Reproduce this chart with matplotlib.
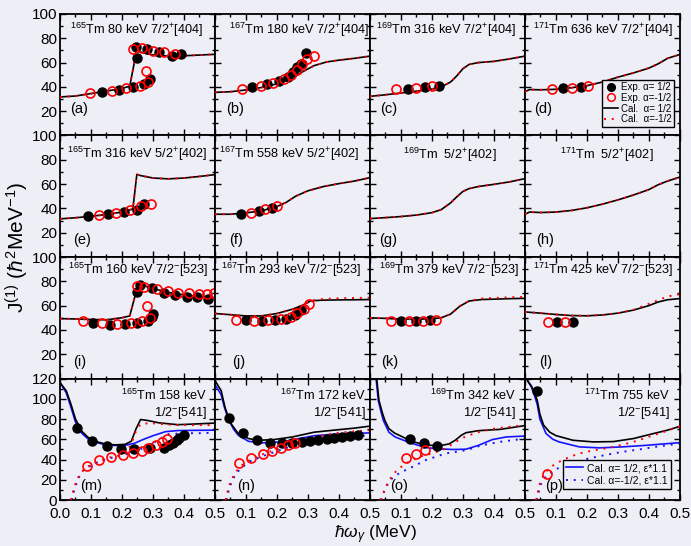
import matplotlib
matplotlib.use('Agg')
import matplotlib.pyplot as plt
from matplotlib.ticker import MultipleLocator
from matplotlib.lines import Line2D

plt.rcParams['font.family'] = ['Liberation Sans', 'DejaVu Sans']
plt.rcParams['mathtext.fontset'] = 'custom'
plt.rcParams['mathtext.rm'] = 'Liberation Sans'
plt.rcParams['mathtext.it'] = 'Liberation Sans:italic'
plt.rcParams['mathtext.bf'] = 'Liberation Sans:bold'

BG = '#eeeef6'

# ---- row 1 : 7/2+[404] ----
a_bx = [0.137, 0.191, 0.234, 0.272, 0.290, 0.248, 0.245, 0.280, 0.318, 0.361, 0.390]
a_by = [35.5, 37.7, 39.9, 42.7, 46.8, 63.4, 73.0, 70.8, 68.9, 65.8, 66.7]
a_rx = [0.098, 0.167, 0.213, 0.258, 0.283, 0.276, 0.237, 0.263, 0.301, 0.335, 0.371]
a_ry = [35.0, 36.9, 39.1, 40.7, 44.1, 53.2, 71.1, 71.6, 69.7, 68.3, 67.2]
a_cx = [0, 0.05, 0.1, 0.15, 0.2, 0.225, 0.247, 0.27, 0.3, 0.35, 0.4, 0.45, 0.5]
a_cy = [31.7, 32.5, 34.5, 36.5, 38.8, 40.5, 69.5, 68.0, 66.3, 65.3, 65.6, 66.2, 66.8]

b_bx = [0.118, 0.169, 0.206, 0.236, 0.253, 0.266, 0.276, 0.293]
b_by = [39.9, 42.2, 44.9, 48.2, 52.3, 56.4, 59.2, 67.5]
b_rx = [0.086, 0.147, 0.188, 0.222, 0.244, 0.266, 0.280, 0.298, 0.319]
b_ry = [38.6, 40.8, 43.5, 46.3, 50.1, 54.3, 58.7, 62.8, 65.3]
b_cx = [0, 0.05, 0.1, 0.15, 0.2, 0.23, 0.26, 0.29, 0.32, 0.36, 0.4, 0.45, 0.5]
b_cy = [35.5, 36.0, 37.5, 39.5, 42.5, 45.5, 49.0, 53.5, 57.5, 60.5, 62.0, 63.5, 65.3]

c_bx = [0.123, 0.177, 0.223]
c_by = [38.6, 40.0, 41.1]
c_rx = [0.085, 0.147, 0.201]
c_ry = [38.6, 39.4, 40.5]
c_cx = [0, 0.05, 0.1, 0.15, 0.2, 0.23, 0.26, 0.28, 0.3, 0.32, 0.35, 0.4, 0.45, 0.5]
c_cy = [32.2, 33.5, 35.0, 36.5, 38.2, 40.0, 44.0, 49.0, 55.0, 58.5, 60.0, 61.0, 63.0, 65.3]

d_bx = [0.124, 0.180]
d_by = [38.8, 40.0]
d_rx = [0.088, 0.153, 0.203]
d_ry = [38.6, 39.4, 40.8]
d_cx = [0, 0.015, 0.05, 0.1, 0.15, 0.2, 0.25, 0.3, 0.35, 0.4, 0.43, 0.46, 0.5]
d_cy = [36.0, 37.8, 37.6, 38.0, 39.3, 41.0, 44.0, 48.0, 51.5, 55.5, 59.0, 63.5, 66.7]

# ---- row 2 : 5/2+[402] ----
e_bx = [0.091, 0.156, 0.207, 0.247, 0.271]
e_by = [33.6, 35.2, 37.2, 38.5, 44.0]
e_rx = [0.126, 0.181, 0.226, 0.260, 0.293]
e_ry = [34.4, 36.3, 38.5, 41.8, 44.0]
e_cx = [0, 0.05, 0.1, 0.15, 0.2, 0.235, 0.248, 0.26, 0.3, 0.35, 0.4, 0.45, 0.5]
e_cy = [31.4, 32.3, 33.5, 35.0, 37.0, 39.5, 68.0, 67.0, 65.0, 64.3, 65.0, 66.3, 67.8]

f_bx = [0.083, 0.142, 0.185]
f_by = [35.8, 37.7, 40.4]
f_rx = [0.115, 0.163, 0.200]
f_ry = [36.6, 39.3, 42.3]
f_cx = [0, 0.05, 0.1, 0.15, 0.2, 0.23, 0.26, 0.3, 0.35, 0.4, 0.45, 0.5]
f_cy = [35.2, 35.2, 36.3, 38.0, 41.5, 45.0, 50.0, 54.5, 58.0, 60.4, 62.5, 65.3]

g_cx = [0, 0.05, 0.1, 0.15, 0.2, 0.23, 0.26, 0.28, 0.3, 0.32, 0.35, 0.4, 0.45, 0.5]
g_cy = [31.6, 32.4, 33.3, 34.5, 36.5, 39.0, 44.5, 49.5, 54.0, 56.3, 58.0, 59.8, 61.8, 64.5]

h_cx = [0, 0.015, 0.05, 0.1, 0.15, 0.2, 0.25, 0.3, 0.35, 0.4, 0.43, 0.46, 0.5]
h_cy = [35.2, 37.0, 36.6, 37.0, 38.3, 40.5, 43.5, 47.0, 51.0, 55.5, 59.5, 62.5, 65.8]

# ---- row 3 : 7/2-[523] ----
i_bx = [0.108, 0.161, 0.210, 0.250, 0.285, 0.296, 0.300,
        0.247, 0.258, 0.296, 0.334, 0.372, 0.409, 0.443, 0.479]
i_by = [45.7, 44.4, 44.6, 45.7, 47.1, 50.7, 52.9,
        71.3, 76.9, 74.1, 70.5, 68.6, 67.2, 66.7, 65.8]
i_rx = [0.073, 0.135, 0.183, 0.228, 0.264, 0.290, 0.280,
        0.247, 0.272, 0.312, 0.348, 0.381, 0.415, 0.447, 0.473, 0.498]
i_ry = [47.4, 45.3, 44.6, 45.7, 47.4, 49.9, 59.5,
        76.0, 75.5, 73.3, 71.9, 70.5, 70.0, 69.4, 69.4, 70.0]
i_cx = [0, 0.05, 0.1, 0.15, 0.2, 0.225, 0.25, 0.258, 0.3, 0.35, 0.4, 0.45, 0.5]
i_cy = [49.3, 49.0, 48.6, 48.3, 50.0, 51.5, 75.5, 77.5, 74.0, 70.8, 68.8, 67.5, 66.5]

j_bx = [0.099, 0.151, 0.193, 0.228, 0.258, 0.276]
j_by = [47.9, 47.4, 47.9, 49.3, 52.0, 56.2]
j_rx = [0.069, 0.126, 0.172, 0.212, 0.244, 0.265, 0.287, 0.303]
j_ry = [48.5, 47.4, 47.9, 48.7, 50.7, 54.0, 57.6, 61.0]
j_cx = [0, 0.05, 0.1, 0.15, 0.2, 0.25, 0.28, 0.31, 0.35, 0.4, 0.45, 0.5]
j_cy = [53.5, 52.5, 51.5, 51.5, 53.5, 57.0, 60.0, 64.0, 64.5, 64.7, 64.8, 65.0]
j_dy = [53.5, 52.5, 51.5, 51.5, 53.5, 57.0, 60.0, 64.0, 65.5, 66.0, 66.3, 66.5]

k_bx = [0.099, 0.149, 0.194]
k_by = [47.1, 47.1, 48.0]
k_rx = [0.069, 0.125, 0.172, 0.214]
k_ry = [47.4, 47.1, 47.4, 48.0]
k_cx = [0, 0.05, 0.1, 0.15, 0.2, 0.23, 0.26, 0.29, 0.32, 0.36, 0.4, 0.45, 0.5]
k_cy = [49.9, 49.5, 48.9, 48.8, 49.2, 50.0, 53.0, 59.5, 63.8, 65.0, 65.3, 65.7, 66.0]
k_dy = [49.9, 49.5, 48.9, 48.8, 49.2, 50.0, 53.0, 59.5, 64.0, 65.8, 66.3, 66.8, 67.2]

l_bx = [0.102, 0.154]
l_by = [46.6, 46.6]
l_rx = [0.073, 0.129]
l_ry = [46.6, 46.6]
l_cx = [0, 0.05, 0.1, 0.15, 0.2, 0.25, 0.3, 0.35, 0.4, 0.43, 0.46, 0.5]
l_cy = [54.8, 53.8, 52.7, 51.8, 51.6, 52.3, 53.8, 56.3, 60.0, 63.0, 64.8, 65.8]
l_dy = [54.8, 53.8, 52.7, 51.8, 51.6, 52.3, 53.8, 56.5, 61.5, 64.5, 67.5, 69.4]

# ---- row 4 : 1/2-[541] ----
m_bx = [0.056, 0.104, 0.151, 0.197, 0.239, 0.290, 0.335, 0.353, 0.366, 0.376, 0.385, 0.401]
m_by = [71.5, 58.1, 53.4, 50.2, 50.2, 51.6, 51.6, 54.0, 56.6, 59.0, 61.0, 64.3]
m_rx = [0.088, 0.127, 0.165, 0.202, 0.237, 0.263, 0.285, 0.310, 0.328, 0.344]
m_ry = [33.8, 39.4, 42.3, 44.3, 46.9, 48.9, 51.2, 54.1, 57.1, 60.7]
m_kx = [0, 0.02, 0.035, 0.05, 0.07, 0.09, 0.12, 0.15, 0.18, 0.21, 0.23, 0.245, 0.26,
        0.28, 0.32, 0.38, 0.43, 0.5]
m_ky = [116, 108, 95, 80, 68, 62, 57.5, 55, 54.5, 55, 58, 70, 79.5, 78.7, 76.2, 74.4, 75, 76]
m_ux = [0, 0.02, 0.035, 0.05, 0.07, 0.09, 0.12, 0.15, 0.18, 0.21, 0.24, 0.27, 0.3,
        0.34, 0.38, 0.43, 0.5]
m_uy = [116, 106, 92, 77, 66, 60.5, 56.5, 54.5, 53.8, 54, 56, 60, 63.5, 67.5, 68.6, 68.8, 69]
m_dx = [0.035, 0.045, 0.055, 0.065, 0.08, 0.1, 0.13, 0.16, 0.19, 0.21, 0.23, 0.245, 0.26,
        0.29, 0.35, 0.4, 0.45, 0.5]
m_dy = [0, 12, 20, 26, 31, 35, 39, 42, 44, 46, 55, 68, 75, 76, 74.5, 74, 74, 74]
m_vx = [0.038, 0.048, 0.06, 0.075, 0.1, 0.13, 0.17, 0.21, 0.25, 0.29, 0.32, 0.35, 0.4, 0.45, 0.5]
m_vy = [0, 12, 22, 29, 34, 38.5, 42, 45, 49, 54, 60, 65, 66, 66, 66.5]

n_bx = [0.045, 0.091, 0.134, 0.177, 0.215, 0.247, 0.280, 0.306, 0.333, 0.360, 0.385,
        0.411, 0.435, 0.460]
n_by = [81, 66, 59, 56.5, 56, 56.5, 57, 58, 59.5, 60.5, 61.5, 62.5, 63.5, 64]
n_rx = [0.077, 0.116, 0.154, 0.185, 0.213, 0.234, 0.258]
n_ry = [36.7, 41.6, 45.9, 48.5, 51.8, 54.1, 56.7]
n_kx = [0, 0.02, 0.032, 0.048, 0.075, 0.108, 0.14, 0.19, 0.25, 0.32, 0.4, 0.45, 0.5]
n_ky = [118, 108, 92, 77, 65.6, 60.7, 59, 59.7, 62.3, 67, 69.5, 71, 73]
n_ux = [0, 0.02, 0.03, 0.043, 0.06, 0.075, 0.108, 0.15, 0.215, 0.27, 0.32, 0.4, 0.5]
n_uy = [114, 104, 92, 80, 70, 64, 58, 56.4, 57.4, 60.7, 63.5, 65.3, 66.3]
n_dx = [0.034, 0.042, 0.05, 0.065, 0.085, 0.11, 0.14, 0.17, 0.2, 0.23, 0.26, 0.3, 0.35,
        0.4, 0.45, 0.5]
n_dy = [0, 10, 18, 27, 34, 39, 43.5, 47, 50, 53, 56, 60, 64, 66.5, 67.8, 69]
n_vx = [0.036, 0.045, 0.055, 0.07, 0.09, 0.118, 0.16, 0.215, 0.258, 0.3, 0.35, 0.4, 0.45, 0.5]
n_vy = [0, 10, 19, 27, 33, 39, 44, 49.9, 54, 57.5, 60, 62, 63, 64]

o_bx = [0.128, 0.174, 0.217]
o_by = [60.0, 56.4, 53.8]
o_rx = [0.115, 0.149, 0.177]
o_ry = [41.3, 45.3, 49.2]
o_kx = [0.02, 0.029, 0.04, 0.048, 0.061, 0.08, 0.094, 0.137, 0.18, 0.223, 0.255, 0.275,
        0.295, 0.31, 0.35, 0.42, 0.5]
o_ky = [125, 98.4, 86, 78.7, 70.5, 66, 64, 57.7, 54.4, 53.5, 55.4, 59, 64, 66.5, 68.5, 69.8, 73.5]
o_ux = [0.018, 0.027, 0.035, 0.043, 0.061, 0.08, 0.094, 0.137, 0.18, 0.223, 0.27, 0.31,
        0.35, 0.395, 0.44, 0.5]
o_uy = [125, 98, 88, 78.7, 67, 62.5, 60.7, 55.8, 51.8, 50.5, 49.9, 50.2, 54, 59.7, 62.3, 63.2]
o_dx = [0.034, 0.045, 0.056, 0.07, 0.083, 0.1, 0.115, 0.158, 0.2, 0.244, 0.276, 0.31,
        0.35, 0.4, 0.45, 0.5]
o_dy = [0, 8, 16.4, 23, 28, 32.5, 36, 42.6, 46, 50.8, 57.4, 63, 67, 70.5, 72.3, 74]
o_vx = [0.035, 0.045, 0.058, 0.07, 0.085, 0.1, 0.126, 0.18, 0.244, 0.31, 0.36, 0.42, 0.5]
o_vy = [0, 8, 16, 21, 24.6, 27.5, 31, 39.4, 46, 49.2, 54, 57.5, 60.7]

p_bx = [0.040]
p_by = [107.6]
p_rx = [0.072]
p_ry = [25.6]
p_kx = [0, 0.01, 0.02, 0.03, 0.04, 0.048, 0.06, 0.08, 0.1, 0.155, 0.22, 0.285, 0.35,
        0.414, 0.46, 0.5]
p_ky = [124, 117, 113, 107, 98, 85, 74, 67, 63.6, 59, 57.4, 57.7, 60.7, 65.6, 69, 72.8]
p_ux = [0, 0.01, 0.02, 0.03, 0.04, 0.048, 0.068, 0.09, 0.11, 0.175, 0.24, 0.315, 0.39, 0.5]
p_uy = [124, 117, 112, 104, 94, 80, 65.6, 60, 57.4, 52.5, 51.5, 52.5, 54, 56.7]
p_dx = [0.036, 0.04, 0.048, 0.058, 0.068, 0.085, 0.11, 0.14, 0.175, 0.22, 0.26, 0.3,
        0.35, 0.4, 0.45, 0.5]
p_dy = [0, 6, 16.4, 23, 27.9, 33, 37.7, 42, 46, 49, 51, 53.5, 57.4, 62.5, 67.5, 72.8]
p_vx = [0.038, 0.043, 0.052, 0.065, 0.08, 0.1, 0.13, 0.17, 0.205, 0.26, 0.315, 0.37, 0.42, 0.5]
p_vy = [0, 6, 16, 22, 26, 30.5, 34.4, 38, 41, 44.5, 47.6, 50, 52.5, 55.8]

titles = [
    r'$^{165}$Tm 80 keV 7/2$^{+}$[404]', r'$^{167}$Tm 180 keV 7/2$^{+}$[404]',
    r'$^{169}$Tm 316 keV 7/2$^{+}$[404]', r'$^{171}$Tm 636 keV 7/2$^{+}$[404]',
    r'$^{165}$Tm 316 keV 5/2$^{+}$[402]', r'$^{167}$Tm 558 keV 5/2$^{+}$[402]',
    r'$^{169}$Tm  5/2$^{+}$[402]', r'$^{171}$Tm  5/2$^{+}$[402]',
    r'$^{165}$Tm 160 keV 7/2$^{-}$[523]', r'$^{167}$Tm 293 keV 7/2$^{-}$[523]',
    r'$^{169}$Tm 379 keV 7/2$^{-}$[523]', r'$^{171}$Tm 425 keV 7/2$^{-}$[523]',
    r'$^{165}$Tm 158 keV', r'$^{167}$Tm 172 keV', r'$^{169}$Tm 342 keV', r'$^{171}$Tm 755 keV',
]
letters = 'abcdefghijklmnop'
title_x = [0.065, 0.09, 0.037, 0.053, 0.043, 0.026, 0.21, 0.226,
           0.05, 0.04, 0.058, 0.052, 0.946, 0.975, 0.94, 0.935]
label_x = [0.065, 0.075, 0.065, 0.058, 0.082, 0.09, 0.058, 0.075,
           0.082, 0.11, 0.075, 0.09, 0.133, 0.146, 0.133, 0.129]

exp_data = {
    'a': (a_bx, a_by, a_rx, a_ry), 'b': (b_bx, b_by, b_rx, b_ry),
    'c': (c_bx, c_by, c_rx, c_ry), 'd': (d_bx, d_by, d_rx, d_ry),
    'e': (e_bx, e_by, e_rx, e_ry), 'f': (f_bx, f_by, f_rx, f_ry),
    'i': (i_bx, i_by, i_rx, i_ry), 'j': (j_bx, j_by, j_rx, j_ry),
    'k': (k_bx, k_by, k_rx, k_ry), 'l': (l_bx, l_by, l_rx, l_ry),
    'm': (m_bx, m_by, m_rx, m_ry), 'n': (n_bx, n_by, n_rx, n_ry),
    'o': (o_bx, o_by, o_rx, o_ry), 'p': (p_bx, p_by, p_rx, p_ry),
}
# black solid, red dotted
cal_data = {
    'a': (a_cx, a_cy, a_cx, a_cy), 'b': (b_cx, b_cy, b_cx, b_cy),
    'c': (c_cx, c_cy, c_cx, c_cy), 'd': (d_cx, d_cy, d_cx, d_cy),
    'e': (e_cx, e_cy, e_cx, e_cy), 'f': (f_cx, f_cy, f_cx, f_cy),
    'g': (g_cx, g_cy, g_cx, g_cy), 'h': (h_cx, h_cy, h_cx, h_cy),
    'i': (i_cx, i_cy, i_cx, i_cy), 'j': (j_cx, j_cy, j_cx, j_dy),
    'k': (k_cx, k_cy, k_cx, k_dy), 'l': (l_cx, l_cy, l_cx, l_dy),
    'm': (m_kx, m_ky, m_dx, m_dy), 'n': (n_kx, n_ky, n_dx, n_dy),
    'o': (o_kx, o_ky, o_dx, o_dy), 'p': (p_kx, p_ky, p_dx, p_dy),
}
# blue solid, blue dotted (eps*1.1)
eps_data = {
    'm': (m_ux, m_uy, m_vx, m_vy), 'n': (n_ux, n_uy, n_vx, n_vy),
    'o': (o_ux, o_uy, o_vx, o_vy), 'p': (p_ux, p_uy, p_vx, p_vy),
}

DOT = (0, (1, 3))
BLUE = '#1414ff'
TFS = 9.2

fig = plt.figure(figsize=(6.91, 5.46), dpi=100, facecolor=BG)
axes = fig.subplots(4, 4)
fig.subplots_adjust(left=0.0868, right=0.984, top=0.9744, bottom=0.0842, wspace=0, hspace=0)

for idx, ax in enumerate(axes.flat):
    r, c = divmod(idx, 4)
    L = letters[idx]
    ax.set_facecolor(BG)

    if L in eps_data:
        ux, uy, vx, vy = eps_data[L]
        ax.plot(ux, uy, color=BLUE, lw=1.2, zorder=2)
        ax.plot(vx, vy, color=BLUE, lw=1.4, ls=DOT, zorder=2)
    kx, ky, dx, dy = cal_data[L]
    ax.plot(kx, ky, color='black', lw=1.2, zorder=2)
    ax.plot(dx, dy, color='red', lw=1.4, ls=DOT, zorder=3)
    if L in exp_data:
        bx, by, rx, ry = exp_data[L]
        ax.plot(bx, by, 'o', color='black', ms=6.5, ls='none', zorder=4)
        ax.plot(rx, ry, 'o', mfc='none', mec='red', mew=1.2, ms=6.5, ls='none', zorder=5)

    ax.set_xlim(0, 0.5)
    if r < 3:
        ax.set_ylim(0, 100)
        ax.set_yticks([0, 20, 40, 60, 80, 100])
        ylabs = ['', '20', '40', '60', '80', '100']
    else:
        ax.set_ylim(0, 120)
        ax.set_yticks([0, 20, 40, 60, 80, 100, 120])
        ylabs = ['0', '20', '40', '60', '80', '100', '120']
    ax.yaxis.set_minor_locator(MultipleLocator(10))
    ax.set_xticks([0, 0.1, 0.2, 0.3, 0.4, 0.5])
    ax.xaxis.set_minor_locator(MultipleLocator(0.05))
    if c == 0:
        ax.set_yticklabels(ylabs)
    else:
        ax.set_yticklabels([])
    if r == 3:
        xl = ['0.0', '0.1', '0.2', '0.3', '0.4', '0.5']
        if c > 0:
            xl[0] = ''
        ax.set_xticklabels(xl)
    else:
        ax.set_xticklabels([])
    ax.tick_params(which='both', direction='in', top=True, right=True, labelsize=11)
    ax.tick_params(axis='y', pad=2)
    ax.tick_params(axis='x', pad=5)
    ax.tick_params(which='major', length=4, width=1)
    ax.tick_params(which='minor', length=2.5, width=1)
    for s in ax.spines.values():
        s.set_linewidth(1.3)

    # annotations
    if r == 0:
        ax.text(title_x[idx], 0.868, titles[idx], transform=ax.transAxes, fontsize=TFS, va='center')
        ax.text(label_x[idx], 0.22, '(%s)' % L, transform=ax.transAxes, fontsize=10.5, va='center')
    elif r == 1:
        ax.text(title_x[idx], 0.85 if c < 2 else 0.84, titles[idx], transform=ax.transAxes,
                fontsize=TFS, va='center')
        ax.text(label_x[idx], 0.14, '(%s)' % L, transform=ax.transAxes, fontsize=10.5, va='center')
    elif r == 2:
        ax.text(title_x[idx], 0.89, titles[idx], transform=ax.transAxes, fontsize=TFS, va='center')
        ax.text(label_x[idx], 0.135, '(%s)' % L, transform=ax.transAxes, fontsize=10.5, va='center')
    else:
        ax.text(title_x[idx], 0.86, titles[idx], transform=ax.transAxes, fontsize=TFS,
                va='center', ha='right')
        ax.text(title_x[idx], 0.713, r'1/2$^{-}$[541]', transform=ax.transAxes, fontsize=TFS,
                va='center', ha='right')
        ax.text(label_x[idx], 0.115, '(%s)' % L, transform=ax.transAxes, fontsize=10.5, va='center')

# legends
h1 = [Line2D([], [], marker='o', color='black', ls='none', ms=5.5),
      Line2D([], [], marker='o', mfc='none', mec='red', mew=1.1, ls='none', ms=5.5),
      Line2D([], [], color='black', lw=1.2),
      Line2D([], [], color='red', lw=1.4, ls=DOT)]
leg = axes[0, 3].legend(h1, ['Exp. α= 1/2', 'Exp. α=-1/2', 'Cal.  α= 1/2', 'Cal.  α=-1/2'],
                        loc='lower right', bbox_to_anchor=(0.975, 0.055), fontsize=7,
                        handlelength=1.4, handletextpad=0.3, borderpad=0.25, labelspacing=0.08,
                        borderaxespad=0.2, fancybox=False, edgecolor='black', facecolor=BG,
                        framealpha=1)
leg.get_frame().set_linewidth(1.0)

h2 = [Line2D([], [], color=BLUE, lw=1.2),
      Line2D([], [], color=BLUE, lw=1.4, ls=DOT)]
leg2 = axes[3, 3].legend(h2, ['Cal. α= 1/2, ε*1.1', 'Cal. α=-1/2, ε*1.1'],
                         loc='lower right', bbox_to_anchor=(0.975, 0.05), fontsize=7.5,
                         handlelength=1.6, handletextpad=0.4, borderpad=0.3, labelspacing=0.25,
                         fancybox=False, edgecolor='black', facecolor=BG, framealpha=1)
leg2.get_frame().set_linewidth(1.0)

fig.text(0.025, 0.548, r'J$^{(1)}$ ($\hbar^{2}$MeV$^{-1}$)', rotation=90, fontsize=15,
         ha='center', va='center')
fig.text(0.543, 0.02, r'$\hbar\omega_{\gamma}$ (MeV)', fontsize=12.5, ha='center', va='center')

fig.savefig('out.png', dpi=100, facecolor=BG)
